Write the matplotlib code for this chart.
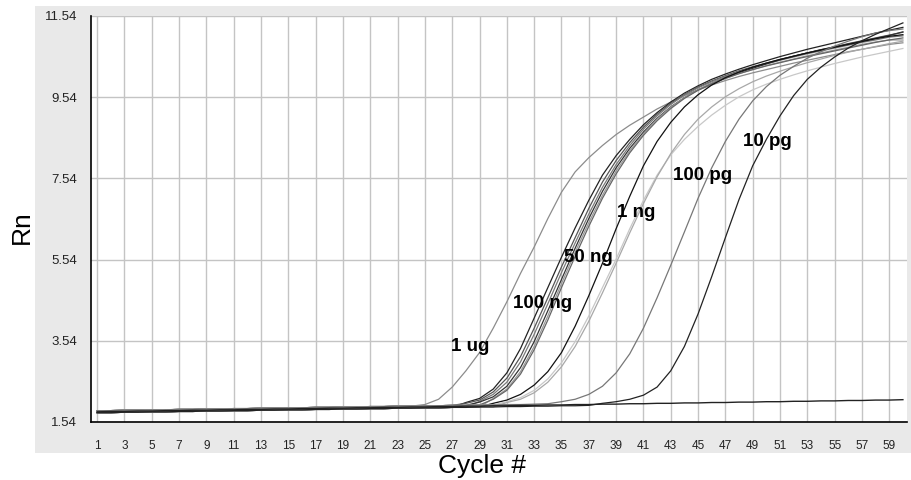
import numpy as np
import matplotlib
matplotlib.use('Agg')
import matplotlib.pyplot as plt

#Data
cycles = np.arange(1, 61)

#baseline part of the curves, cycles 1..38
base_hi = [1.82,1.82,1.83,1.83,1.84,1.84,1.85,1.85,1.86,1.86,1.87,1.87,1.88,1.88,1.89,1.89,1.90,1.90,1.91,
           1.91,1.92,1.92,1.93,1.93,1.94,1.94,1.95,1.95,1.96,1.96,1.97,1.97,1.98,1.98,1.99,1.99,2.00,2.00]
base_lo = [1.77,1.77,1.78,1.78,1.79,1.79,1.80,1.80,1.81,1.81,1.82,1.82,1.83,1.83,1.84,1.84,1.85,1.85,1.86,
           1.86,1.87,1.87,1.88,1.88,1.89,1.89,1.90,1.90,1.91,1.91,1.92,1.92,1.93,1.93,1.94,1.94,1.95,1.95]

#rising part of each curve, last value is cycle 60
rise_1ug = [1.97,2.10,2.40,2.80,3.25,3.85,4.50,5.20,5.85,6.55,7.20,7.70,8.05,8.35,8.62,8.85,9.05,9.25,9.42,
            9.58,9.72,9.84,9.95,10.05,10.14,10.22,10.30,10.38,10.45,10.52,10.59,10.66,10.72,10.78,10.84,10.88]
rise_100ng_a = [2.02,2.12,2.35,2.75,3.35,4.10,4.85,5.60,6.32,7.00,7.62,8.10,8.50,8.86,9.16,9.42,9.64,9.82,
                9.98,10.11,10.23,10.34,10.44,10.54,10.63,10.72,10.80,10.88,10.96,11.04,11.12,11.19,11.26]
rise_100ng_b = [2.00,2.08,2.28,2.62,3.15,3.85,4.60,5.36,6.08,6.80,7.45,7.98,8.42,8.80,9.12,9.39,9.61,9.79,
                9.94,10.07,10.19,10.29,10.38,10.47,10.55,10.63,10.71,10.78,10.86,10.93,11.00,11.07,11.14]
rise_100ng_c = [2.05,2.22,2.52,3.02,3.70,4.45,5.22,5.95,6.66,7.32,7.88,8.35,8.75,9.08,9.36,9.59,9.77,9.92,
                10.05,10.17,10.27,10.36,10.45,10.53,10.61,10.68,10.75,10.82,10.89,10.95,11.02,11.05]
rise_50ng_a = [2.03,2.16,2.42,2.88,3.52,4.28,5.05,5.82,6.55,7.22,7.80,8.28,8.68,9.02,9.30,9.53,9.72,9.88,
               10.02,10.14,10.25,10.36,10.46,10.55,10.63,10.71,10.78,10.85,10.92,10.99,11.06,11.15]
rise_50ng_b = [2.12,2.35,2.78,3.40,4.15,4.95,5.72,6.45,7.12,7.72,8.22,8.64,9.00,9.29,9.53,9.72,9.88,10.01,
               10.12,10.22,10.32,10.40,10.48,10.56,10.63,10.70,10.77,10.84,10.90,10.95,10.95]
rise_50ng_c = [2.10,2.32,2.72,3.32,4.05,4.85,5.62,6.36,7.05,7.65,8.17,8.60,8.96,9.26,9.51,9.71,9.87,10.00,
               10.12,10.22,10.31,10.39,10.47,10.54,10.61,10.68,10.75,10.82,10.89,10.95,11.00]
rise_1ng_a = [2.00,2.08,2.22,2.45,2.78,3.25,3.90,4.65,5.45,6.30,7.10,7.85,8.45,8.92,9.30,9.60,9.84,10.02,
              10.16,10.28,10.38,10.47,10.55,10.63,10.70,10.77,10.84,10.91,10.98,11.04,11.08]
rise_1ng_b = [2.04,2.14,2.32,2.60,3.00,3.52,4.15,4.85,5.55,6.30,7.00,7.62,8.12,8.50,8.82,9.10,9.34,9.55,
              9.72,9.86,9.98,10.09,10.19,10.28,10.37,10.45,10.53,10.60,10.67,10.74]
rise_1ng_c = [2.02,2.10,2.26,2.52,2.90,3.40,4.02,4.72,5.45,6.20,6.92,7.58,8.15,8.62,9.00,9.30,9.55,9.75,
              9.92,10.06,10.18,10.29,10.39,10.48,10.57,10.65,10.72,10.79,10.86,10.92]
rise_100pg = [1.99,2.04,2.10,2.22,2.42,2.75,3.22,3.85,4.60,5.40,6.22,7.05,7.80,8.45,9.00,9.45,9.80,10.08,
              10.30,10.50,10.66,10.80,10.92,11.03,11.12,11.18,11.22]
rise_10pg = [2.00,2.04,2.10,2.20,2.40,2.80,3.40,4.20,5.12,6.08,7.02,7.85,8.50,9.08,9.58,9.98,10.28,10.53,
             10.75,10.93,11.09,11.23,11.37]

#no template control, flat all the way
ntc = [1.79,1.80,1.80,1.81,1.81,1.82,1.82,1.83,1.83,1.84,1.84,1.85,1.85,1.86,1.86,1.87,1.87,1.88,1.88,1.89,
       1.89,1.90,1.90,1.91,1.91,1.92,1.92,1.93,1.93,1.94,1.94,1.95,1.95,1.96,1.96,1.97,1.97,1.98,1.98,1.99,
       1.99,2.00,2.00,2.01,2.01,2.02,2.02,2.03,2.03,2.04,2.04,2.05,2.05,2.06,2.06,2.07,2.07,2.08,2.08,2.09]

yticks = [1.54, 3.54, 5.54, 7.54, 9.54, 11.54]
xticks = list(range(1, 60, 2))

labels = ['1 ug', '100 ng', '50 ng', '1 ng', '100 pg', '10 pg']
label_x = [28.3, 33.6, 37.0, 40.5, 45.3, 50.1]
label_y = [3.39, 4.47, 5.58, 6.69, 7.60, 8.46]

#curve, baseline, colour
curves = [
    (rise_1ug, base_hi, '#8c8c8c'),
    (rise_100ng_a, base_lo, '#222222'),
    (rise_100ng_b, base_hi, '#555555'),
    (rise_100ng_c, base_lo, '#7a7a7a'),
    (rise_50ng_a, base_hi, '#333333'),
    (rise_50ng_b, base_lo, '#999999'),
    (rise_50ng_c, base_hi, '#666666'),
    (rise_1ng_a, base_lo, '#111111'),
    (rise_1ng_b, base_hi, '#c8c8c8'),
    (rise_1ng_c, base_lo, '#a8a8a8'),
    (rise_100pg, base_hi, '#777777'),
    (rise_10pg, base_lo, '#222222'),
]

#Plot
plt.rcParams['font.family'] = ['Liberation Sans', 'DejaVu Sans']
fig = plt.figure(figsize=(9.12, 4.8), dpi=100)
fig.patch.set_facecolor('white')

#grey panel behind the plot
bg = fig.add_axes([35/912, 27/480, 1 - 35/912, (453 - 6)/480], zorder=0)
bg.set_facecolor('#e9e9e9')
bg.set_xticks([])
bg.set_yticks([])
for s in bg.spines.values():
    s.set_visible(False)

ax = fig.add_axes([91/912, (480 - 422)/480, (907 - 91)/912, (422 - 16)/480], zorder=1)
ax.set_facecolor('white')

for rise, base, col in curves:
    vals = list(base[:60 - len(rise)]) + list(rise)
    ax.plot(cycles[:len(vals)], vals, color=col, lw=0.9)
ax.plot(cycles[:len(ntc)], ntc, color='#222222', lw=1.0)

for t, lx, ly in zip(labels, label_x, label_y):
    ax.text(lx, ly, t, ha='center', va='center', fontsize=13.5, fontweight='bold', color='black')

ax.set_xlim(0.55, 60.3)
ax.set_ylim(1.54, 11.54)
ax.set_xticks(xticks)
ax.set_yticks(yticks)
ax.set_yticklabels(['%.2f' % v for v in yticks])
ax.tick_params(axis='both', length=0, colors='#222222')
ax.tick_params(axis='y', labelsize=9.5, pad=10)
ax.tick_params(axis='x', labelsize=8.5, pad=13)
ax.grid(True, color='#c4c4c4', lw=1.0)
ax.set_axisbelow(True)
for s in ['top', 'right']:
    ax.spines[s].set_visible(False)
for s in ['left', 'bottom']:
    ax.spines[s].set_color('black')
    ax.spines[s].set_linewidth(1.2)

fig.text(22/912, 1 - 227/480, 'Rn', rotation=90, ha='center', va='center', fontsize=19)
fig.text(482/912, 1 - 466/480, 'Cycle #', ha='center', va='center', fontsize=19)

plt.savefig('out.png', dpi=100)
